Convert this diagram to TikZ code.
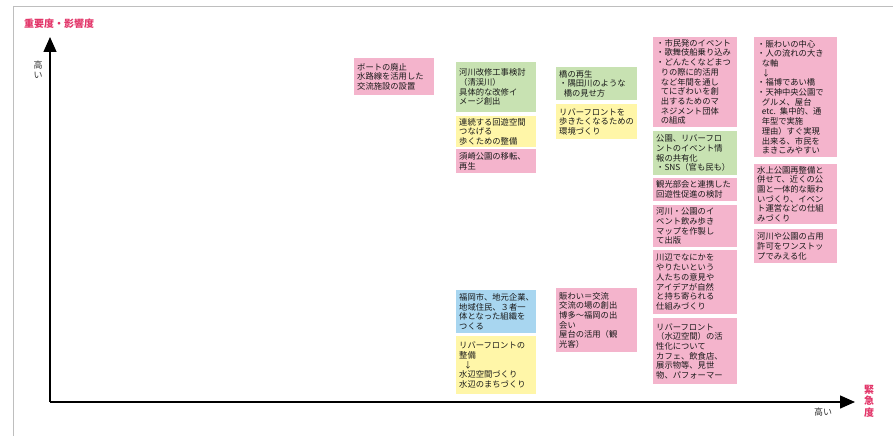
\documentclass[tikz,border=0pt]{standalone}
\usepackage{fontspec}
\newfontfamily\cjk{Noto Sans CJK JP}
\usetikzlibrary{arrows.meta}
\definecolor{cpink}{RGB}{244,180,204}
\definecolor{cgreen}{RGB}{200,226,178}
\definecolor{cyellow}{RGB}{255,246,168}
\definecolor{cblue}{RGB}{168,214,240}
\definecolor{cred}{RGB}{226,52,104}
\definecolor{cframe}{RGB}{190,190,190}
\tikzset{
  card/.style={anchor=north west, inner xsep=3pt, inner ysep=2pt, align=left,
    font=\cjk\fontsize{8.3}{9.7}\selectfont, text=black!90},
  axisline/.style={line width=1.4pt, -{Triangle[length=15pt,width=13pt]}},
  axlabel/.style={font=\cjk\fontsize{9}{10}\selectfont, text=black!80, align=center, inner sep=0pt},
  redlabel/.style={font=\cjk\bfseries\fontsize{10}{11.5}\selectfont, text=cred, align=center, inner sep=0pt}
}
\newcommand\card[7]{%
  \pgfmathsetmacro\tw{#4-6}%
  \node[card, fill=#6, minimum width=#4pt, minimum height=#5pt, text width=\tw pt] (#1) at (#2,#3) {#7};}
\newcommand\ind{\hspace*{0.55em}}
\begin{document}
\begin{tikzpicture}[x=1pt,y=-1pt]
\useasboundingbox (0,0) rectangle (893,436);
\draw[cframe, line width=0.6pt] (13,6) -- (13,436);
\draw[cframe, line width=0.6pt] (13,6) -- (893,6);

% axes
\coordinate (origin) at (50,402);
\coordinate (ytop) at (50,37);
\coordinate (xend) at (855,402);
\draw[axisline] (origin) -- (ytop);
\draw[axisline] (origin) -- (xend);
\node[redlabel, anchor=west] (ylab) at (24,24) {重要度・影響度};
\node[axlabel] (yhigh) at (38,70) {高\\い};
\node[axlabel] (xhigh) at (823,412) {高い};
\node[redlabel] (xlab) at (869,401) {緊\\急\\度};

% column 1
\card{b1}{354}{58}{80}{37}{cpink}{ボートの廃止\\水路線を活用した\\交流施設の設置}
% column 2
\card{b2}{456}{62}{80}{50}{cgreen}{河川改修工事検討\\（清渓川）\\具体的な改修イ\\メージ創出}
\card{b3}{456}{116}{80}{30}{cyellow}{連続する回遊空間\\つなげる\\歩くための整備}
\card{b4}{456}{149}{80}{24}{cpink}{須崎公園の移転、\\再生}
% column 3
\card{b5}{556}{67}{81}{33}{cgreen}{橋の再生\\・隅田川のような\\\ind 橋の見せ方}
\card{b6}{556}{104}{81}{35}{cyellow}{リバーフロントを\\歩きたくなるための\\環境づくり}
% column 4
\card{b7}{653}{37}{84}{89}{cpink}{・市民発のイベント\\・歌舞伎船乗り込み\\・どんたくなどまつ\\\ind りの際に的活用\\\ind など年間を通し\\\ind てにぎわいを創\\\ind 出するためのマ\\\ind ネジメント団体\\\ind の組成}
\card{b8}{653}{131}{84}{44}{cgreen}{公園、リバーフロ\\ントのイベント情\\報の共有化\\・SNS（官も民も）}
\card{b9}{653}{178}{84}{23}{cpink}{観光部会と連携した\\回遊性促進の検討}
\card{b10}{653}{205}{84}{42}{cpink}{河川・公園のイ\\ベント飲み歩き\\マップを作製し\\て出版}
\card{b11}{653}{250}{84}{64}{cpink}{川辺でなにかを\\やりたいという\\人たちの意見や\\アイデアが自然\\と持ち寄られる\\仕組みづくり}
\card{b12}{653}{318}{84}{66}{cpink}{リバーフロント\\（水辺空間）の活\\性化について\\カフェ、飲食店、\\展示物等、見世\\物、パフォーマー}
% column 5
\card{b13}{754}{37}{83}{120}{cpink}{・賑わいの中心\\・人の流れの大き\\\ind な軸\\\ind↓\\・福博であい橋\\・天神中央公園で\\\ind グルメ、屋台\\\ind etc. 集中的、通\\\ind 年型で実施\\\ind 理由）すぐ実現\\\ind 出来る、市民を\\\ind まきこみやすい}
\card{b14}{754}{164}{83}{60}{cpink}{水上公園再整備と\\併せて、近くの公\\園と一体的な賑わ\\いづくり、イベン\\ト運営などの仕組\\みづくり}
\card{b15}{754}{229}{83}{34}{cpink}{河川や公園の占用\\許可をワンストッ\\プでみえる化}
% bottom
\card{b16}{456}{290}{80}{43}{cblue}{福岡市、地元企業、\\地域住民、３者一\\体となった組織を\\つくる}
\card{b17}{456}{336}{80}{58}{cyellow}{リバーフロントの\\整備\\\ind↓\\水辺空間づくり\\水辺のまちづくり}
\card{b18}{556}{288}{81}{64}{cpink}{賑わい＝交流\\交流の場の創出\\博多〜福岡の出\\会い\\屋台の活用（観\\光客）}
\end{tikzpicture}
\end{document}
